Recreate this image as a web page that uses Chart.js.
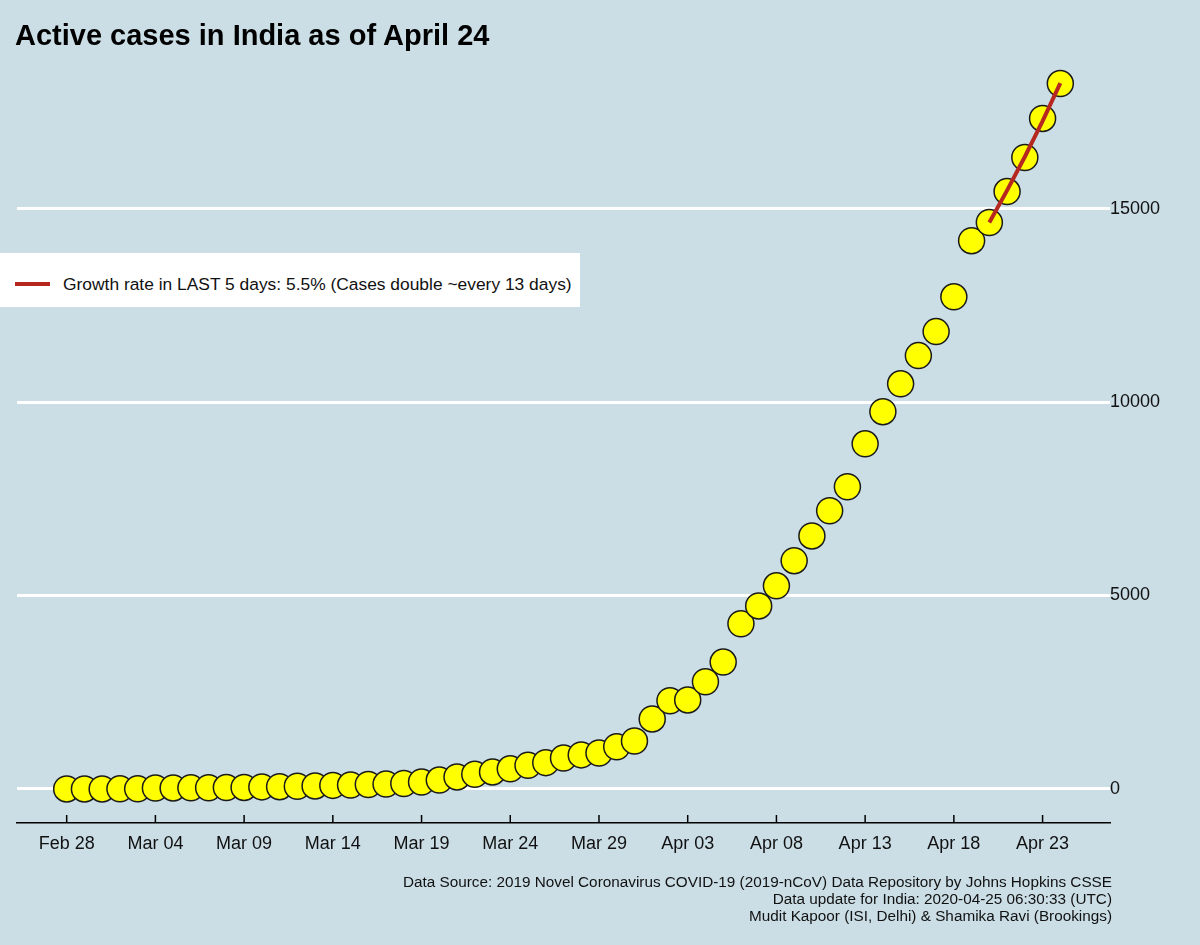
<!DOCTYPE html>
<html>
<head>
<meta charset="utf-8">
<script src="https://cdn.jsdelivr.net/npm/chart.js@4.4.0/dist/chart.umd.min.js"></script>
<style>
  body { margin: 0; background: #cbdee6; font-family: "Liberation Sans", Arial, sans-serif; }
  #wrap { position: relative; width: 1200px; height: 945px; }
  #title { position: absolute; left: 15px; top: 19px; font-size: 29px; font-weight: bold; color: #000; }
  #legend { position: absolute; left: 0; top: 253px; width: 580px; height: 54px; background: #fff; }
  #legend .swatch { position: absolute; left: 15px; top: 29px; width: 35px; height: 4px; background: #b5271f; }
  #legend .txt { position: absolute; left: 63px; top: 21px; font-size: 17.4px; color: #111; white-space: nowrap; }
  #caption { position: absolute; right: 88px; top: 873px; font-size: 15.3px; line-height: 17px; text-align: right; color: #111; }
  canvas { position: absolute; left: 0; top: 0; }
</style>
</head>
<body>
<div id="wrap">
  <canvas id="chart" width="1200" height="945"></canvas>
  <div id="title">Active cases in India as of April 24</div>
  <div id="legend"><div class="swatch"></div><div class="txt">Growth rate in LAST 5 days: 5.5% (Cases double ~every 13 days)</div></div>
  <div id="caption">Data Source: 2019 Novel Coronavirus COVID-19 (2019-nCoV) Data Repository by Johns Hopkins CSSE<br>Data update for India: 2020-04-25 06:30:33 (UTC)<br>Mudit Kapoor (ISI, Delhi) &amp; Shamika Ravi (Brookings)</div>
</div>
<script>
// datos
const dates = ['Feb 28', 'Feb 29', 'Mar 01', 'Mar 02', 'Mar 03', 'Mar 04', 'Mar 05', 'Mar 06', 'Mar 07', 'Mar 08',
  'Mar 09', 'Mar 10', 'Mar 11', 'Mar 12', 'Mar 13', 'Mar 14', 'Mar 15', 'Mar 16', 'Mar 17', 'Mar 18',
  'Mar 19', 'Mar 20', 'Mar 21', 'Mar 22', 'Mar 23', 'Mar 24', 'Mar 25', 'Mar 26', 'Mar 27', 'Mar 28',
  'Mar 29', 'Mar 30', 'Mar 31', 'Apr 01', 'Apr 02', 'Apr 03', 'Apr 04', 'Apr 05', 'Apr 06', 'Apr 07',
  'Apr 08', 'Apr 09', 'Apr 10', 'Apr 11', 'Apr 12', 'Apr 13', 'Apr 14', 'Apr 15', 'Apr 16', 'Apr 17',
  'Apr 18', 'Apr 19', 'Apr 20', 'Apr 21', 'Apr 22', 'Apr 23', 'Apr 24'];

const activeCases = [0, 0, 0, 2, 2, 25, 27, 28, 31, 36,
  40, 53, 59, 70, 78, 92, 100, 115, 125, 140,
  180, 230, 310, 380, 440, 520, 610, 680, 800, 880,
  930, 1090, 1240, 1810, 2280, 2300, 2770, 3280, 4270, 4730,
  5250, 5900, 6540, 7190, 7810, 8920, 9750, 10470, 11200, 11820,
  12720, 14170, 14640, 15440, 16320, 17330, 18230];

// linea de crecimiento (ultimos 5 dias)
const fitDates = ['Apr 20', 'Apr 21', 'Apr 22', 'Apr 23', 'Apr 24'];
const fitValues = [14640, 15470, 16340, 17260, 18240];

const xTickLabels = ['Feb 28', 'Mar 04', 'Mar 09', 'Mar 14', 'Mar 19', 'Mar 24', 'Mar 29', 'Apr 03', 'Apr 08', 'Apr 13', 'Apr 18', 'Apr 23'];
const yTickValues = [0, 5000, 10000, 15000];

Chart.defaults.font.family = '"Liberation Sans", Arial, sans-serif';
Chart.defaults.color = '#111';

const ctx = document.getElementById('chart').getContext('2d');

const innerTicks = {
  id: 'innerTicks',
  afterDraw(chart) {
    const x = chart.scales.x;
    const bottom = chart.chartArea.bottom;
    const c = chart.ctx;
    c.save();
    c.strokeStyle = '#000';
    c.lineWidth = 1.5;
    x.ticks.forEach(t => {
      const px = x.getPixelForValue(t.value);
      c.beginPath();
      c.moveTo(px, bottom - 8);
      c.lineTo(px, bottom);
      c.stroke();
    });
    c.restore();
  }
};

const chart = new Chart(ctx, {
  type: 'scatter',
  data: {
    datasets: [{
      label: 'Growth rate in LAST 5 days',
      data: fitDates.map((d, i) => ({ x: dates.indexOf(d), y: fitValues[i] })),
      showLine: true,
      borderColor: '#b5271f',
      borderWidth: 4,
      pointRadius: 0,
      order: 0
    }, {
      label: 'Active cases',
      data: activeCases.map((v, i) => ({ x: i, y: v })),
      showLine: false,
      backgroundColor: '#ffff00',
      borderColor: '#1a1a1a',
      borderWidth: 1.5,
      pointRadius: 13,
      order: 1
    }]
  },
  options: {
    responsive: false,
    animation: false,
    clip: false,
    layout: { padding: { left: 17, top: 48, right: 0, bottom: 0 } },
    plugins: { legend: { display: false }, tooltip: { enabled: false } },
    scales: {
      x: {
        type: 'linear',
        min: -2.8,
        max: 58.8,
        afterBuildTicks: axis => { axis.ticks = xTickLabels.map(l => ({ value: dates.indexOf(l) })); },
        afterFit: axis => { axis.height = 122; },
        ticks: {
          callback: v => dates[v],
          font: { size: 18 },
          padding: 10,
          maxRotation: 0,
          autoSkip: false
        },
        grid: { display: true, drawOnChartArea: false, drawTicks: false },
        border: { display: true, color: '#000', width: 1.5 }
      },
      y: {
        position: 'right',
        min: -880,
        max: 19150,
        afterBuildTicks: axis => { axis.ticks = yTickValues.map(v => ({ value: v })); },
        afterFit: axis => { axis.width = 90; },
        ticks: { font: { size: 18 }, padding: 0, callback: v => String(v) },
        grid: { color: '#ffffff', lineWidth: 3, drawTicks: false },
        border: { display: false }
      }
    }
  },
  plugins: [innerTicks]
});
</script>
</body>
</html>
